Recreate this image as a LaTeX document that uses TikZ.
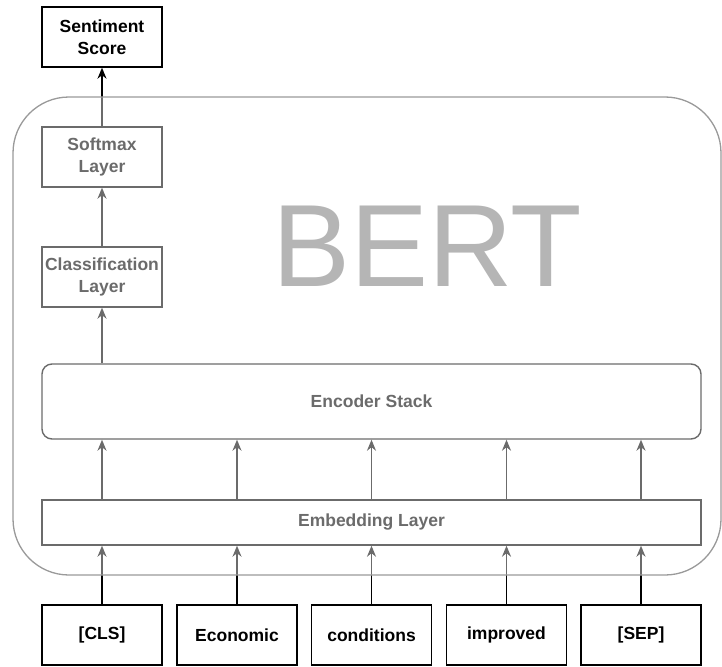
\documentclass[tikz,border=0pt]{standalone}
\usepackage{fontspec}
\setmainfont{Liberation Sans}
\usetikzlibrary{arrows.meta}
\definecolor{bertgray}{HTML}{B5B5B5}
\definecolor{frame}{HTML}{9A9A9A}
\tikzset{
  box/.style={draw=black, line width=1.4pt, minimum width=120pt, minimum height=60pt,
    align=center, font=\fontsize{17.5}{22}\selectfont\bfseries, inner sep=0pt},
  tok/.style={box, line width=1.9pt},
  wide/.style={draw=black, line width=1.4pt, minimum width=659pt, align=center,
    font=\fontsize{17.5}{22}\selectfont\bfseries, inner sep=0pt},
  arr/.style={draw=black, line width=1.4pt, -{Stealth[length=11pt,width=9pt,inset=3.5pt]}},
}
\begin{document}
\begin{tikzpicture}[x=1pt,y=-1pt]
\useasboundingbox (0,0) rectangle (722,666);
% top output
\node[box] (sent) at (102,37) {Sentiment\\Score};
\node[box] (soft) at (102,157) {Softmax\\Layer};
\node[box] (clsl) at (102,277) {Classification\\Layer};
\node[wide, minimum height=75pt, rounded corners=10pt] (enc) at (371.5,401.5) {Encoder Stack};
\node[wide, minimum height=45pt] (emb) at (371.5,522.5) {Embedding Layer};
% tokens
\node[tok] (t1) at (102,635) {[CLS]};
\node[tok] (t2) at (237,635) {Economic};
\node[tok] (t3) at (371.5,635) {conditions};
\node[tok] (t4) at (506.5,635) {improved};
\node[tok] (t5) at (641,635) {[SEP]};
% arrows
\foreach \t in {t1,t2,t3,t4,t5}{
  \draw[arr] (\t.north) -- (\t.north |- emb.south);
  \draw[arr] (emb.north -| \t) -- (enc.south -| \t);
}
\draw[arr] (enc.north -| clsl) -- (clsl.south);
\draw[arr] (clsl.north) -- (soft.south);
\draw[arr] (soft.north) -- (sent.south);
% BERT container overlay
\coordinate (cTL) at (13,97);
\coordinate (cBR) at (721,575);
\fill[white, fill opacity=0.42, rounded corners=56pt] (cTL) rectangle (cBR);
\draw[frame, line width=1.3pt, rounded corners=56pt] (cTL) rectangle (cBR);
\node[text=bertgray, font=\fontsize{117}{117}\selectfont, inner sep=0pt] (bert) at (427,246) {BERT};
\end{tikzpicture}
\end{document}
